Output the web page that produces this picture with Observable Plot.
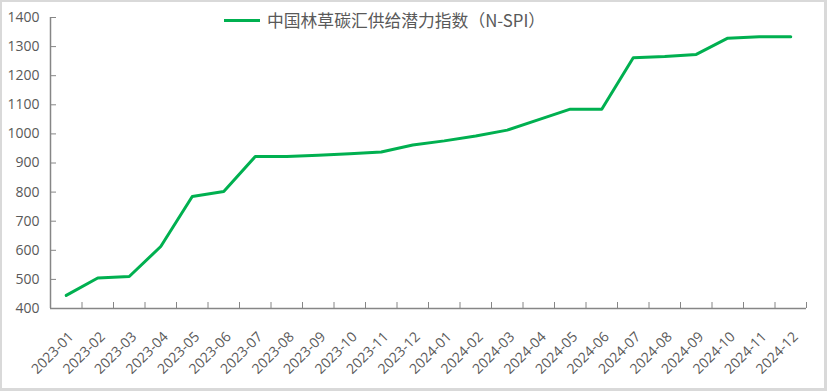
<!DOCTYPE html>
<html><head><meta charset="utf-8">
<script src="https://cdn.jsdelivr.net/npm/d3@7"></script>
<script src="https://cdn.jsdelivr.net/npm/@observablehq/plot@0.6"></script>
<style>
html,body{margin:0;padding:0;background:#fff;}
#wrap{position:relative;width:827px;height:391px;overflow:hidden;background:#fff;}
#chart{position:absolute;left:0;top:0;}
#frame{position:absolute;left:0;top:0;width:827px;height:391px;box-sizing:border-box;border:2px solid #d9d9d9;border-right-width:3px;border-bottom-width:3px;pointer-events:none;}
#legend{position:absolute;left:224px;top:8px;display:flex;align-items:center;font-family:"Noto Sans CJK SC","Noto Sans",sans-serif;font-size:16.8px;color:#595959;white-space:nowrap;}
#legend .sw{display:inline-block;width:36px;height:3px;background:#00b050;margin-right:7px;}
</style></head><body>
<div id="wrap"><div id="chart"></div><div id="legend"><span class="sw"></span><span id="legtext"></span></div><div id="frame"></div></div>
<script>
const seriesName = "中国林草碳汇供给潜力指数（N-SPI）";
const months = ["2023-01","2023-02","2023-03","2023-04","2023-05","2023-06","2023-07","2023-08","2023-09","2023-10","2023-11","2023-12",
  "2024-01","2024-02","2024-03","2024-04","2024-05","2024-06","2024-07","2024-08","2024-09","2024-10","2024-11","2024-12"];
const values = [445,505,510,613,785,802,922,922,927,932,938,962,
  976,993,1013,1049,1085,1085,1262,1266,1273,1329,1334,1334];
const yTicks = [400,500,600,700,800,900,1000,1100,1200,1300,1400];

document.getElementById("legtext").textContent = seriesName;

const data = months.map((m, i) => ({i, month: m, value: values[i]}));
const xBounds = d3.range(-0.5, months.length, 1);
const axisColor = "#868686";
const textColor = "#595959";

const chart = Plot.plot({
  width: 827,
  height: 391,
  marginLeft: 50,
  marginRight: 21,
  marginTop: 17,
  marginBottom: 83,
  style: {fontFamily: "'Open Sans', sans-serif", background: "transparent"},
  x: {type: "linear", domain: [-0.5, months.length - 0.5]},
  y: {domain: [400, 1400]},
  marks: [
    Plot.axisY({ticks: yTicks, tickSize: -6, tickPadding: 17, tickFormat: d => String(d), stroke: axisColor, fill: textColor, fontSize: 14, label: null}),
    Plot.axisX({ticks: xBounds, tickSize: -6, tickFormat: () => "", stroke: axisColor, label: null}),
    Plot.axisX({ticks: d3.range(months.length), tickSize: 0, tickFormat: i => months[i], tickRotate: -45, tickPadding: 26, dx: 5, fill: textColor, fontSize: 14, label: null}),
    Plot.ruleY([400], {stroke: axisColor, strokeWidth: 1.5}),
    Plot.ruleX([-0.5], {stroke: axisColor, strokeWidth: 1.5}),
    Plot.line(data, {x: "i", y: "value", stroke: "#00b050", strokeWidth: 3, strokeLinejoin: "round"})
  ]
});
document.getElementById("chart").appendChild(chart);
</script>
</body></html>
